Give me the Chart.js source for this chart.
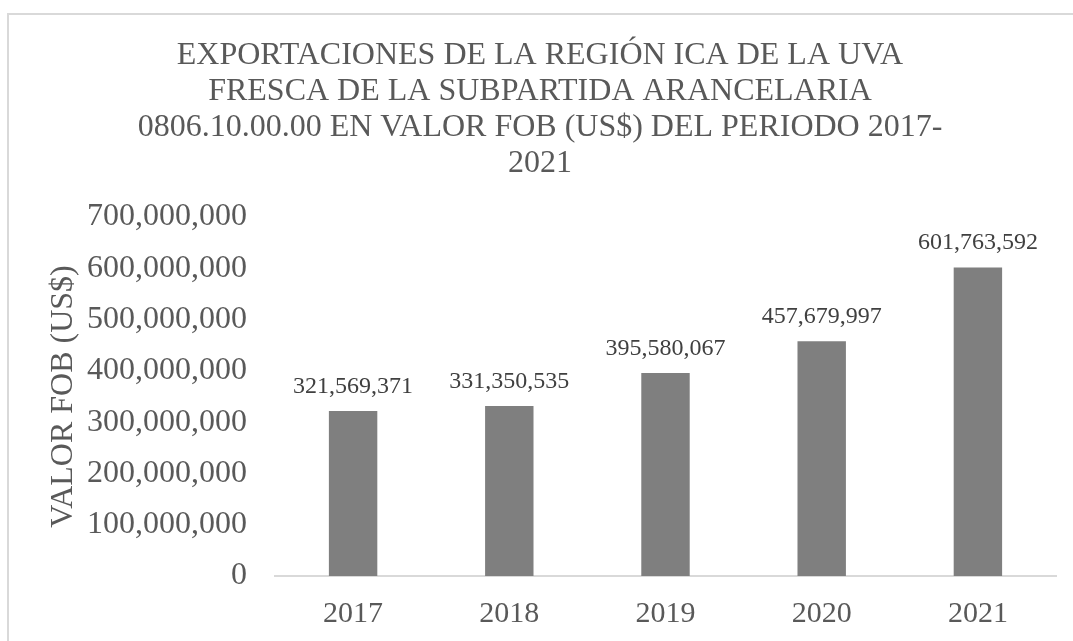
<!DOCTYPE html>
<html lang="es">
<head>
<meta charset="utf-8">
<title>Exportaciones uva fresca - Ica</title>
<script src="https://cdn.jsdelivr.net/npm/chart.js@4.4.1/dist/chart.umd.min.js"></script>
<style>
    html, body { margin: 0; padding: 0; background: #ffffff; overflow: hidden; }
    #wrap { position: relative; width: 1073px; height: 641px; }
    #frame {
        position: absolute; left: 7px; top: 13px; width: 1200px; height: 800px;
        border-top: 2px solid #d9d9d9; border-left: 2px solid #d9d9d9;
        pointer-events: none;
    }
</style>
</head>
<body>
<div id="wrap">
    <canvas id="exportChart" width="1073" height="641"></canvas>
    <div id="frame"></div>
</div>
<script>
const years = ["2017", "2018", "2019", "2020", "2021"];
const fobValues = [321569371, 331350535, 395580067, 457679997, 601763592];
const titleLines = [
    "EXPORTACIONES DE LA REGIÓN ICA DE LA UVA",
    "FRESCA DE LA SUBPARTIDA ARANCELARIA",
    "0806.10.00.00 EN VALOR FOB (US$) DEL PERIODO 2017-",
    "2021"
];
const yAxisTitle = "VALOR FOB (US$)";
const yMax = 700000000;
const yStep = 100000000;

const serif = "'Liberation Serif', 'Times New Roman', serif";

document.addEventListener("DOMContentLoaded", function () {
    const ctx = document.getElementById("exportChart").getContext("2d");

    // simple value labels above each bar (no datalabels plugin available)
    const barLabels = {
        id: "barLabels",
        afterDatasetsDraw(chart) {
            const c = chart.ctx;
            const meta = chart.getDatasetMeta(0);
            c.save();
            c.font = "24px " + serif;
            c.fillStyle = "#404040";
            c.textAlign = "center";
            c.textBaseline = "alphabetic";
            meta.data.forEach((bar, i) => {
                const value = chart.data.datasets[0].data[i];
                c.fillText(value.toLocaleString("en-US"), bar.x, bar.y - 18);
            });
            c.restore();
        }
    };

    new Chart(ctx, {
        type: "bar",
        data: {
            labels: years,
            datasets: [{
                data: fobValues,
                backgroundColor: "#7f7f7f",
                borderWidth: 0,
                barPercentage: 0.31,
                categoryPercentage: 1
            }]
        },
        options: {
            responsive: false,
            animation: false,
            layout: {
                padding: { left: 24, right: 17, top: 0, bottom: 0 }
            },
            plugins: {
                legend: { display: false },
                tooltip: { enabled: false },
                title: {
                    display: true,
                    text: titleLines,
                    color: "#595959",
                    font: { family: serif, size: 32, weight: "normal", lineHeight: 1.125 },
                    padding: { top: 38, bottom: 35 }
                }
            },
            scales: {
                x: {
                    grid: { display: false, drawTicks: false },
                    border: { display: true, color: "#d9d9d9", width: 2 },
                    ticks: {
                        color: "#595959",
                        padding: 20,
                        font: { family: serif, size: 30, lineHeight: 1.2 }
                    },
                    afterFit: function (scale) {
                        scale.height = 65;
                    }
                },
                y: {
                    min: 0,
                    max: yMax,
                    grid: { display: false, drawTicks: false },
                    border: { display: false },
                    ticks: {
                        stepSize: yStep,
                        color: "#595959",
                        padding: 28,
                        font: { family: serif, size: 32, lineHeight: 1.2 },
                        callback: function (value) {
                            return Number(value).toLocaleString("en-US");
                        }
                    },
                    title: {
                        display: true,
                        text: yAxisTitle,
                        color: "#595959",
                        font: { family: serif, size: 32, lineHeight: 1.2 },
                        padding: { top: 20, bottom: 0 }
                    },
                    afterFit: function (scale) {
                        scale.width = 251;
                    }
                }
            }
        },
        plugins: [barLabels]
    });
});
</script>
</body>
</html>
